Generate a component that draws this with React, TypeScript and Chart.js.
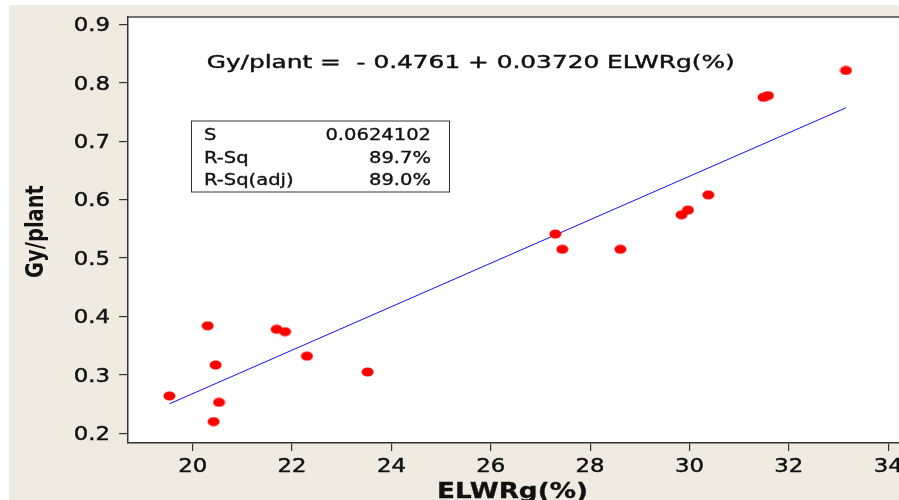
import React, { useEffect, useRef } from "react";
import { Chart, registerables } from "chart.js";

Chart.register(...registerables);

// ---- data ----
const elwrg = [19.53, 20.3, 20.46, 20.53, 20.42, 21.69, 21.86, 22.3, 23.52, 27.3, 27.44, 28.61, 29.84, 29.97, 30.38, 31.49, 31.58, 33.15];
const gyPlant = [0.264, 0.384, 0.317, 0.253, 0.22, 0.378, 0.374, 0.332, 0.305, 0.541, 0.515, 0.515, 0.574, 0.582, 0.608, 0.775, 0.778, 0.821];
const fitX = [19.53, 33.15];
const fitY = [0.2504, 0.7571];
const xTicks = [20, 22, 24, 26, 28, 30, 32, 34];
const xTickLabels = ["20", "22", "24", "26", "28", "30", "32", "34"];
const yTicks = [0.2, 0.3, 0.4, 0.5, 0.6, 0.7, 0.8, 0.9];
const yTickLabels = ["0.2", "0.3", "0.4", "0.5", "0.6", "0.7", "0.8", "0.9"];
const equationText = "Gy/plant =  - 0.4761 + 0.03720 ELWRg(%)";
const statLabels = ["S", "R-Sq", "R-Sq(adj)"];
const statValues = ["0.0624102", "89.7%", "89.0%"];
const xTitle = "ELWRg(%)";
const yTitle = "Gy/plant";

// offset of the canvas inside the page
const OX = 9;
const OY = 5;
const W = 920;
const H = 495;
const TEXT = "#111111";

function drawText(ctx: CanvasRenderingContext2D, text: string, x: number, y: number, font: string, sx: number, align: CanvasTextAlign, stroke = 0.45) {
  ctx.save();
  ctx.translate(x, y);
  ctx.scale(sx, 1);
  ctx.font = font;
  ctx.fillStyle = TEXT;
  ctx.strokeStyle = TEXT;
  ctx.lineWidth = stroke;
  ctx.textAlign = align;
  ctx.textBaseline = "alphabetic";
  ctx.fillText(text, 0, 0);
  if (stroke > 0) ctx.strokeText(text, 0, 0);
  ctx.restore();
}

function makeDot(): HTMLCanvasElement {
  const c = document.createElement("canvas");
  c.width = 13;
  c.height = 10;
  const g = c.getContext("2d")!;
  g.fillStyle = "#ff0000";
  g.beginPath();
  g.ellipse(6.5, 5, 6, 4.6, 0, 0, Math.PI * 2);
  g.fill();
  return c;
}

const decor = {
  id: "decor",
  afterDraw(chart: any) {
    const ctx: CanvasRenderingContext2D = chart.ctx;
    const area = chart.chartArea;
    const xs = chart.scales.x;
    const ys = chart.scales.y;

    // top frame line
    ctx.save();
    ctx.strokeStyle = "#444";
    ctx.lineWidth = 1.5;
    ctx.beginPath();
    ctx.moveTo(area.left, area.top);
    ctx.lineTo(area.right, area.top);
    ctx.stroke();
    ctx.restore();

    // tick labels
    yTicks.forEach((v, i) => {
      const py = ys.getPixelForValue(v);
      drawText(ctx, yTickLabels[i], 110 - OX, py + 6.8, "19px 'DejaVu Sans'", 1.2, "right");
    });
    xTicks.forEach((v, i) => {
      const px = xs.getPixelForValue(v);
      drawText(ctx, xTickLabels[i], px, 471.5 - OY, "19px 'DejaVu Sans'", 1.2, "center");
    });

    // axis titles
    drawText(ctx, xTitle, 512.5 - OX, 497.5 - OY, "bold 21px 'DejaVu Sans'", 1.25, "center", 0.3);
    ctx.save();
    ctx.translate(43 - OX, 231.5 - OY);
    ctx.scale(1.27, 1);
    ctx.rotate(-Math.PI / 2);
    ctx.font = "bold 19.5px 'DejaVu Sans'";
    ctx.fillStyle = TEXT;
    ctx.textAlign = "center";
    ctx.textBaseline = "alphabetic";
    ctx.fillText(yTitle, 0, 0);
    ctx.restore();

    // equation
    drawText(ctx, equationText, 206.7 - OX, 68.3 - OY, "18.5px 'DejaVu Sans'", 1.34, "left");

    // stats box
    ctx.save();
    ctx.strokeStyle = "#333";
    ctx.lineWidth = 1;
    ctx.strokeRect(191.5 - OX, 121 - OY, 258, 71);
    ctx.restore();
    const rows = [140, 162.7, 185.4];
    statLabels.forEach((s, i) => {
      drawText(ctx, s, 204 - OX, rows[i] - OY, "16px 'DejaVu Sans'", 1.22, "left", 0.35);
      drawText(ctx, statValues[i], 431 - OX, rows[i] - OY, "16px 'DejaVu Sans'", 1.22, "right", 0.35);
    });
  },
};

export default function App() {
  const ref = useRef<HTMLCanvasElement | null>(null);

  useEffect(() => {
    const canvas = ref.current!;
    const dot = makeDot();
    const points = elwrg.map((x, i) => ({ x, y: gyPlant[i] }));
    const fit = fitX.map((x, i) => ({ x, y: fitY[i] }));

    const chart = new Chart(canvas, {
      type: "scatter",
      data: {
        datasets: [
          {
            label: "Gy/plant",
            data: points,
            pointStyle: dot as any,
            pointRadius: 6,
            backgroundColor: "#ff0000",
            borderColor: "#ff0000",
          },
          {
            type: "line",
            label: "Fit",
            data: fit,
            borderColor: "#1010ff",
            borderWidth: 1,
            pointRadius: 0,
            fill: false,
          } as any,
        ],
      },
      options: {
        responsive: false,
        animation: false,
        events: [],
        layout: { padding: { left: 0, right: 16, top: 12, bottom: 0 } },
        plugins: {
          legend: { display: false },
          tooltip: { enabled: false },
          title: { display: false },
        },
        scales: {
          x: {
            type: "linear",
            min: 18.697,
            max: 34.5,
            afterBuildTicks: (axis: any) => {
              axis.ticks = xTicks.map((v) => ({ value: v }));
            },
            afterFit: (axis: any) => {
              axis.height = 57;
            },
            ticks: { display: false },
            grid: {
              drawOnChartArea: false,
              drawTicks: true,
              tickLength: 8,
              color: "#333",
              tickColor: "#333",
              lineWidth: 1.2,
              tickWidth: 1.2,
            },
            border: { display: true, color: "#333", width: 1.5 },
          },
          y: {
            type: "linear",
            min: 0.1834,
            max: 0.9125,
            afterBuildTicks: (axis: any) => {
              axis.ticks = yTicks.map((v) => ({ value: v }));
            },
            afterFit: (axis: any) => {
              axis.width = 119;
            },
            ticks: { display: false },
            grid: {
              drawOnChartArea: false,
              drawTicks: true,
              tickLength: 9,
              color: "#333",
              tickColor: "#333",
              lineWidth: 1.2,
              tickWidth: 1.2,
            },
            border: { display: true, color: "#333", width: 1.5 },
          },
        },
      },
      plugins: [
        {
          id: "plotBg",
          beforeDraw(c: any) {
            const a = c.chartArea;
            c.ctx.save();
            c.ctx.fillStyle = "#ffffff";
            c.ctx.fillRect(a.left, a.top, a.right - a.left, a.bottom - a.top);
            c.ctx.restore();
          },
        },
        decor,
      ],
    });
    return () => chart.destroy();
  }, []);

  return (
    <div
      style={{
        position: "fixed",
        left: OX,
        top: OY,
        width: 899 - OX,
        height: 500 - OY,
        overflow: "hidden",
        background: "#EFEBE1",
      }}
    >
      <canvas ref={ref} width={W} height={H} style={{ display: "block", width: W, height: H }} />
    </div>
  );
}
